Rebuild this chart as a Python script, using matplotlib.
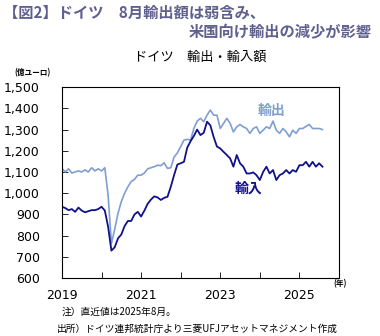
import matplotlib
matplotlib.use("Agg")
import matplotlib.pyplot as plt
import numpy as np

plt.rcParams['font.family'] = ['Noto Sans CJK JP', 'DejaVu Sans']

# Monthly data, Jan 2019 - Aug 2025 (億ユーロ)
exports = [1117, 1100, 1115, 1095, 1100, 1105, 1100, 1110, 1100, 1120, 1105, 1115,
           1105, 1120, 990, 763, 830, 905, 960, 1000, 1030, 1055, 1065, 1085,
           1085, 1095, 1115, 1120, 1125, 1132, 1130, 1143, 1117, 1120, 1170, 1190,
           1220, 1250, 1254, 1250, 1305, 1340, 1353, 1337, 1368, 1392, 1368, 1368,
           1305, 1329, 1353, 1329, 1289, 1313, 1324, 1313, 1305, 1282, 1305, 1313,
           1282, 1297, 1313, 1305, 1340, 1297, 1282, 1305, 1289, 1266, 1297, 1282,
           1305, 1305, 1315, 1324, 1305, 1305, 1305, 1300]
imports = [936, 930, 920, 925, 912, 932, 918, 910, 915, 920, 920, 925,
           936, 918, 842, 729, 745, 787, 805, 845, 869, 869, 900, 912,
           890, 918, 950, 970, 985, 980, 968, 978, 983, 1030, 1085, 1135,
           1141, 1148, 1215, 1245, 1270, 1300, 1274, 1285, 1337, 1320, 1265, 1220,
           1211, 1195, 1180, 1164, 1125, 1180, 1141, 1125, 1093, 1093, 1098, 1085,
           1062, 1100, 1125, 1093, 1109, 1062, 1085, 1093, 1109, 1093, 1109, 1101,
           1132, 1132, 1148, 1125, 1148, 1125, 1141, 1125]
start_year = 2019
year_ticks = [2019, 2021, 2023, 2025]
y_ticks = [600, 700, 800, 900, 1000, 1100, 1200, 1300, 1400, 1500]

t = start_year + np.arange(len(exports)) / 12.0

fig = plt.figure(figsize=(3.8, 3.36), dpi=100)
ax = fig.add_axes([0.163, 0.1726, 0.729, 0.568])

exp_color = '#7f9fd0'
imp_color = '#10108a'
ax.plot(t, exports, color=exp_color, lw=1.2)
ax.plot(t, imports, color=imp_color, lw=1.3)

ax.set_xlim(2019, 2026)
ax.set_ylim(600, 1500)
ax.set_yticks(y_ticks)
ax.set_yticklabels([f"{v:,}" for v in y_ticks], fontsize=9, family=['DejaVu Sans'])
ax.set_xticks(range(2019, 2027))
ax.set_xticklabels([str(y) if y in year_ticks else '' for y in range(2019, 2027)],
                   fontsize=9, family=['DejaVu Sans'])
ax.tick_params(axis='y', direction='in', length=4, pad=16, width=0.6)
ax.tick_params(axis='x', direction='in', length=4, pad=8, width=0.6)
for s in ax.spines.values():
    s.set_linewidth(0.8)
    s.set_color('black')

ax.text(2024.3, 1390, '輸出', color=exp_color, fontsize=10, fontweight='bold',
        ha='center', va='center')
ax.text(2023.7, 1020, '輸入', color=imp_color, fontsize=10, fontweight='bold',
        ha='center', va='center')

title_color = '#60608f'
fig.text(0.008, 0.962, '【図2】ドイツ　8月輸出額は弱含み、', color=title_color,
         fontsize=11, fontweight='bold', ha='left', va='center')
fig.text(0.978, 0.905, '米国向け輸出の減少が影響', color=title_color,
         fontsize=11, fontweight='bold', ha='right', va='center')
fig.text(0.527, 0.83, 'ドイツ　輸出・輸入額', color='black', fontsize=9.5,
         ha='center', va='center')
fig.text(0.037, 0.783, '(億ユーロ)', color='black', fontsize=5.5,
         ha='left', va='center', fontweight='bold')
fig.text(0.878, 0.155, '(年)', color='black', fontsize=5.5,
         ha='left', va='center', fontweight='bold')
fig.text(0.163, 0.073, '注）直近値は2025年8月。', color='black', fontsize=7,
         ha='left', va='center')
fig.text(0.15, 0.022, '出所）ドイツ連邦統計庁より三菱UFJアセットマネジメント作成',
         color='black', fontsize=7, ha='left', va='center')

fig.savefig('out.png', dpi=100)
